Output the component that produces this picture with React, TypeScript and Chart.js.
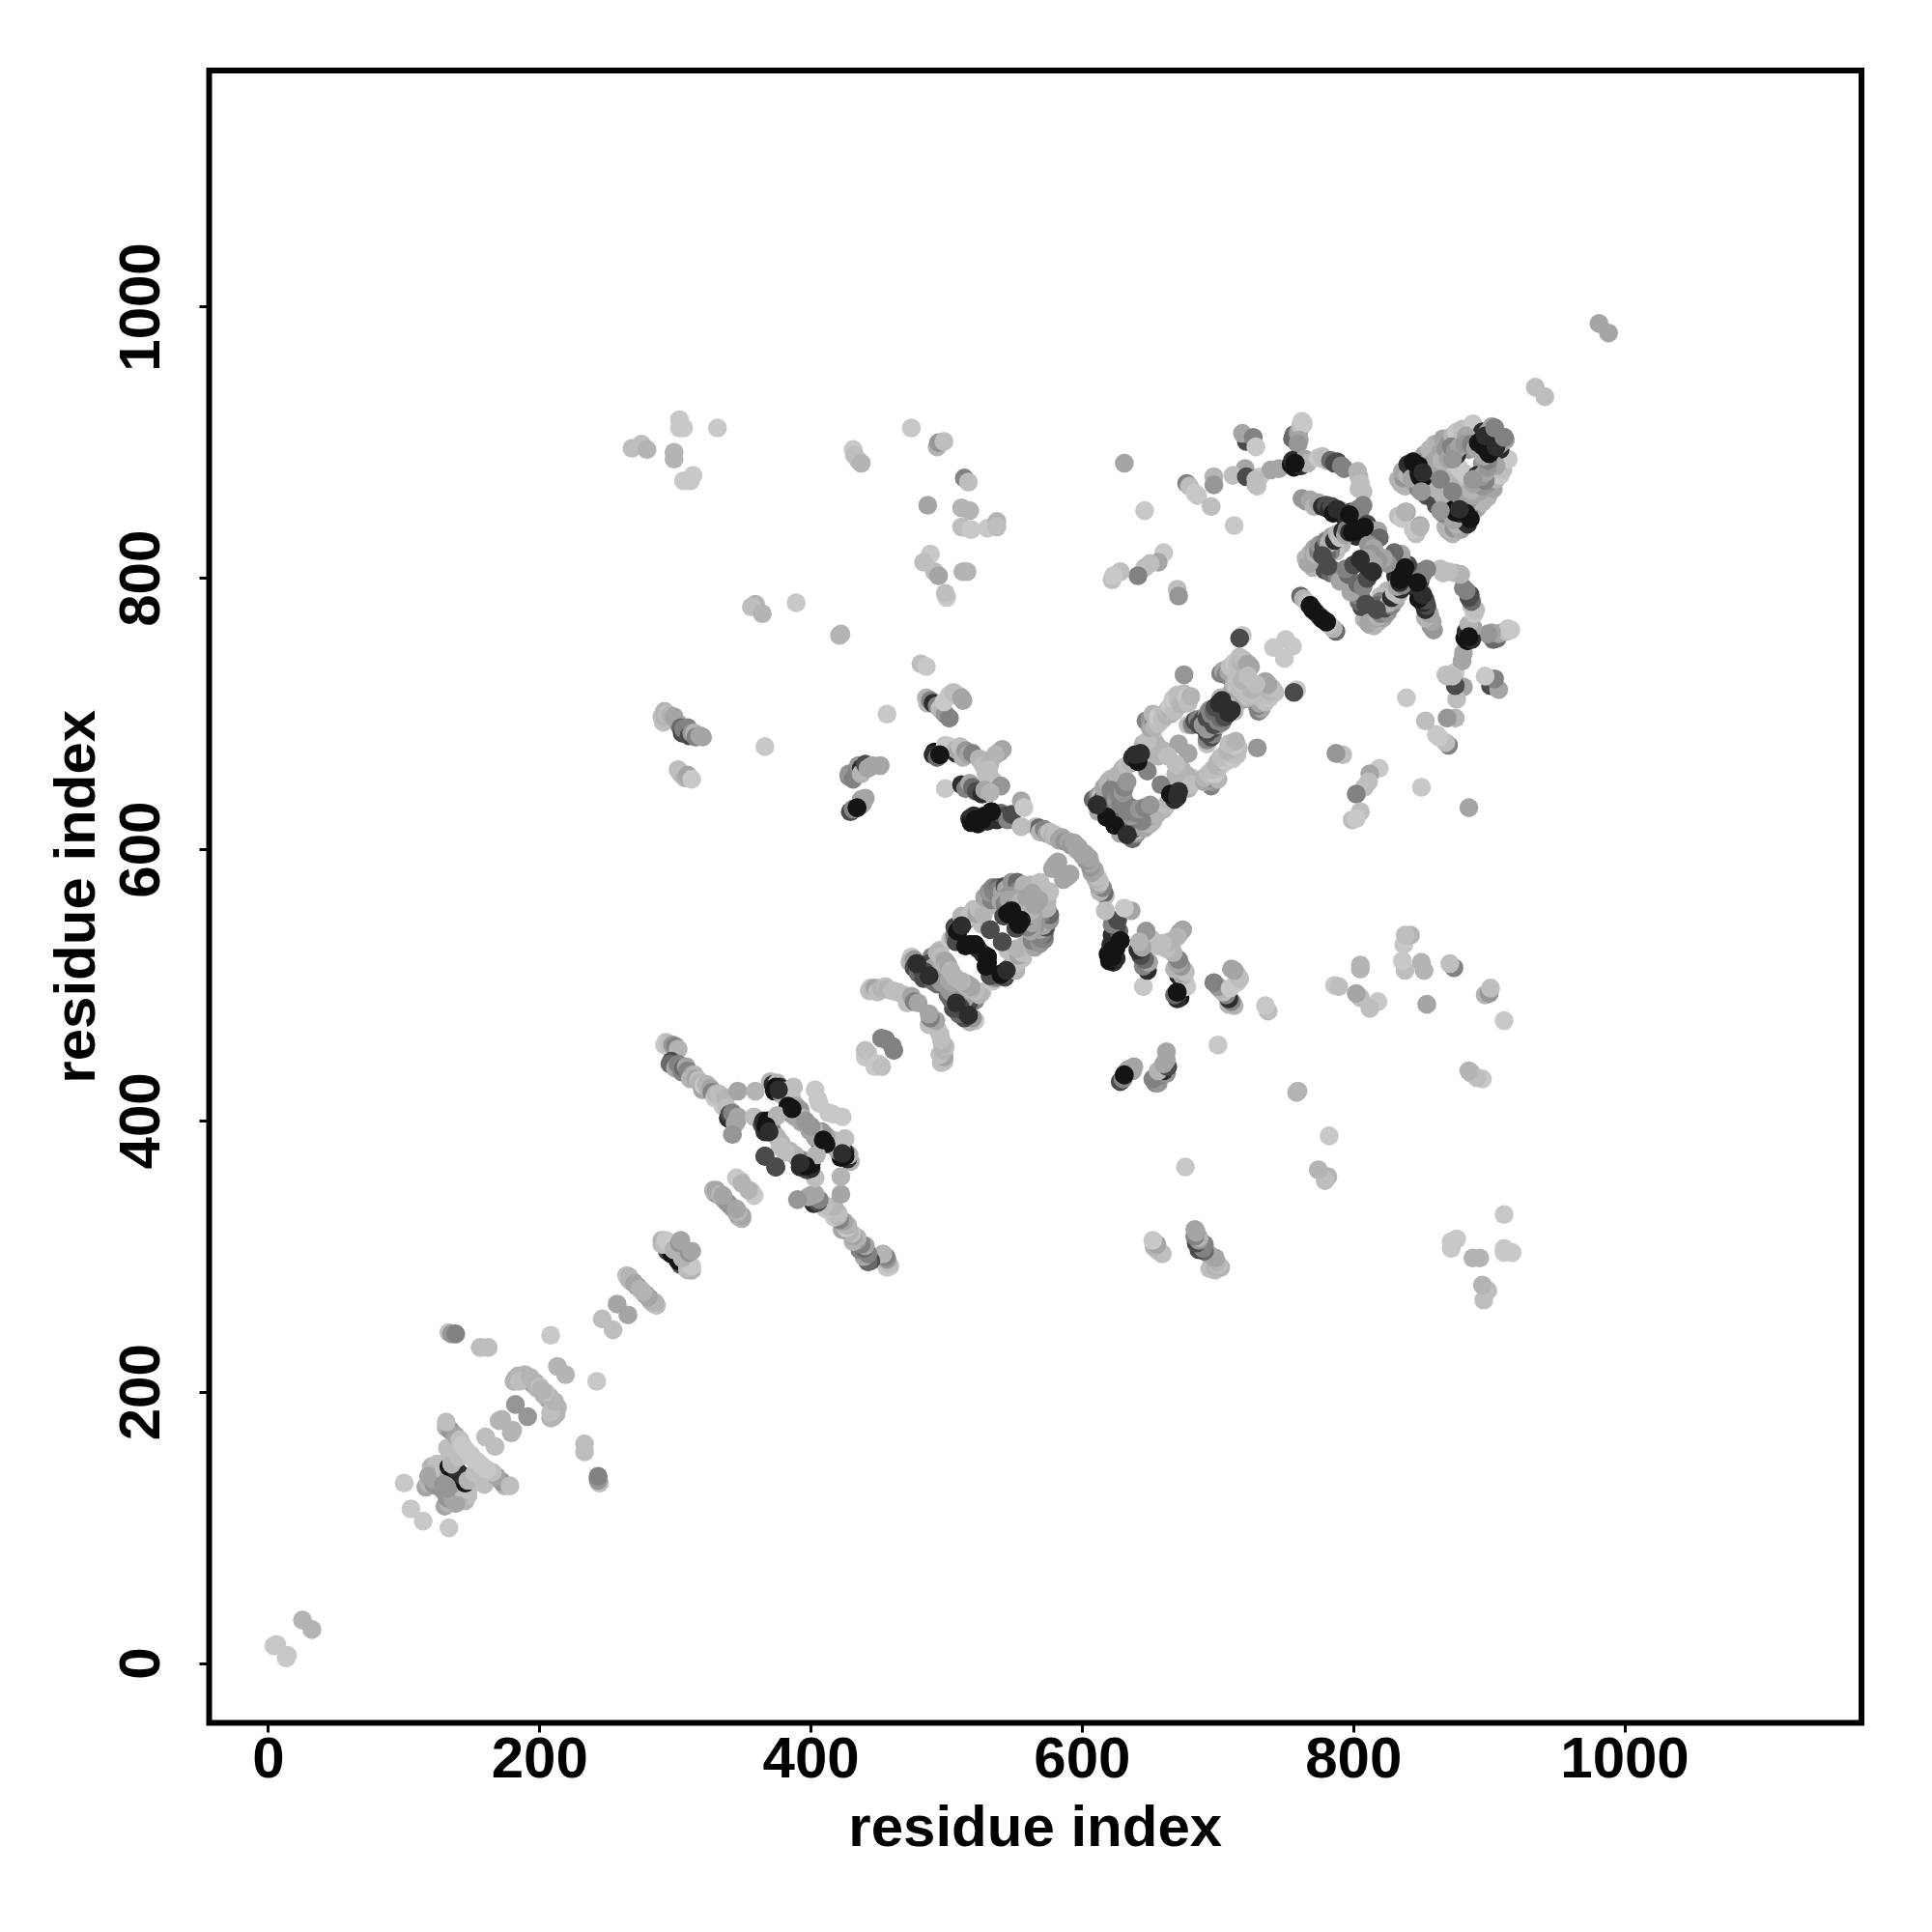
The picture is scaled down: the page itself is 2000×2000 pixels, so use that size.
import React, { useEffect, useRef } from "react";
import { Chart, registerables } from "chart.js";

Chart.register(...registerables);

// each contact: [residue i, residue j, strength level 0-9]; the map is symmetric
type Contact = [number, number, number];

const nTerminus: Contact[] = [[4,13,0],[6,14,0],[25,32,2]];

const domainA: Contact[] = [
[100,133,0],[105,114,0],[116,130,3],[118,133,2],[122,132,4],[125,137,4],[127,133,4],[130,136,5],[120,145,2],[124,147,1],
[126,130,4],[128,139,4],[122,140,2],[118,138,3],[121,136,3],[130,141,1],[128,147,1],[133,138,3],[129,132,4],
[133,145,9],[136,144,9],[139,142,8],[132,159,1],[135,150,1],[135,147,2],[137,157,1],[140,152,1],[131,174,2],[134,172,4],[138,168,3],[141,165,1],[143,161,0],[146,157,0],[149,154,0],[152,150,0],[131,178,1],
[133,244,1],[135,243,4],[138,243,5],[156,233,1],[162,233,1],[160,167,1],[170,179,2],[172,180,2],[182,191,4],
[181,208,2],[182,210,2],[184,212,2],[187,212,2],[191,209,2],[195,206,3],[198,203,2],[186,209,2],[189,213,2],[185,208,1],[193,211,2],[197,207,2],[200,204,1],[202,201,2],
[208,242,0],[213,219,2],[246,254,1],[257,265,3],[269,281,6],[272,278,6],[264,286,1],[265,284,0],[266,285,2],[267,282,2],[270,280,3],[274,276,2],
[294,304,7],[297,302,9],[290,309,1],[290,312,2],[291,310,2],[292,309,1],[293,312,0],[299,305,2],[303,310,4],[304,312,3],
[329,347,2],[331,346,4],[334,344,3],[336,342,3],[338,340,4],[328,349,2],[330,349,3],[333,346,2],[335,345,3],[345,358,0],[348,356,0],[349,354,2],
];

const hairpin: Contact[] = [
[293,458,1],[296,454,3],[292,456,0],[295,457,1],[298,456,4],[300,455,5],[302,453,2],
[297,444,7],[296,442,6],[299,441,6],[303,440,7],[300,439,3],[302,442,5],[305,436,5],[306,439,6],[308,440,3],[309,437,5],[312,434,4],[311,431,2],[314,434,2],[315,431,3],[317,430,1],[318,428,2],[320,423,3],[321,426,0],[323,427,2],[324,424,2],[326,424,3],[327,421,5],[329,417,0],[330,420,2],[332,420,1],[333,417,1],[335,411,0],[336,414,1],[337,417,2],[338,410,1],
[339,402,8],[340,405,7],[343,403,7],[342,406,5],[345,400,5],[344,398,3],[346,403,3],[342,390,4],[346,422,3],[359,422,2],[358,403,1],
[370,429,2],[372,427,8],[373,422,9],[374,425,9],[376,423,8],[375,428,2],[377,425,8],[378,420,4],[380,422,3],[381,417,2],[383,419,1],[384,412,2],[386,416,1],[389,411,3],[385,406,8],[383,411,9],[386,409,9],[388,407,8],[392,408,4],[391,404,4],[388,403,3],[394,402,2],[393,399,3],[396,400,4],
[387,425,1],[403,423,0],[405,416,0],[406,413,0],
[364,397,7],[366,392,8],[365,400,8],[367,396,9],[368,400,9],[369,392,8],[371,394,3],[372,391,5],[375,388,2],[378,384,2],[377,381,1],[375,404,2],[366,374,7],
];

const domainB: Contact[] = [
[440,447,0],[442,450,0],[440,452,1],[452,461,5],[455,460,5],
[443,496,1],[444,498,1],[447,498,3],[449,495,1],[452,498,2],[455,499,1],[456,497,2],[460,496,1],[464,495,1],[468,493,1],[471,487,1],[472,490,1],[474,492,3],[476,488,5],[479,487,3],
[474,521,0],[473,517,2],[476,519,4],[478,516,8],[476,513,7],[480,513,6],[479,509,6],[482,511,7],[484,510,7],[483,505,7],[487,507,8],[490,503,6],[493,501,6],
[486,511,4],[488,509,5],[491,507,4],[494,505,5],[496,502,4],[489,521,5],[492,518,6],[487,516,7],[490,513,3],[498,510,3],[500,507,4],[502,504,3],
[495,526,1],[493,524,2],[496,521,1],[497,518,2],[499,518,3],[500,514,2],[501,515,3],[503,511,2],[506,506,2],
[503,534,0],[505,535,3],[506,537,5],[506,543,7],[508,541,6],[508,538,8],[510,543,7],[512,547,4],[513,547,6],[514,548,6],[511,544,8],[508,540,9],[507,532,7],[511,551,2],[516,550,1],[520,551,1],[523,550,1],
[514,529,9],[517,530,9],[521,530,9],[523,527,8],[532,541,7],[526,545,1],[518,552,1],[520,556,1],[522,553,3],[524,556,1],[527,552,2],[536,559,1],
[531,559,2],[528,565,3],[533,563,5],[531,569,4],[535,569,5],[534,572,5],[537,568,5],[538,572,6],[538,570,5],[541,569,3],[543,573,7],[544,571,3],[547,572,2],[548,576,4],[550,569,4],[552,576,6],[553,570,5],[556,571,3],[557,574,2],[562,574,2],[568,574,2],[569,576,1],[545,566,4],
[540,562,3],[543,560,5],[546,563,3],[542,551,7],[545,553,9],[548,555,9],[550,558,6],[552,557,4],[552,564,3],[556,559,3],[555,562,2],[559,565,3],[563,568,3],
[566,617,1],[568,616,6],[569,613,2],[572,615,5],[574,612,3],[576,613,1],[578,610,2],[580,611,1],[583,607,3],[585,609,3],[587,606,4],[590,606,3],[592,603,4],[594,605,3],[596,600,3],[597,602,3],[578,586,3],[580,589,3],[582,591,3],
];

const domainC: Contact[] = [
[608,637,6],[610,635,6],[611,633,8],[612,637,5],[612,640,4],[614,640,1],[615,637,7],[617,643,3],[618,640,6],[616,646,3],[619,650,2],[620,646,2],[621,652,2],[623,650,2],[623,646,4],[625,649,3],[626,655,2],[627,652,2],[630,660,2],[633,662,1],[636,664,2],[639,666,1],
[637,668,8],[639,670,8],[641,665,9],[641,669,9],[643,666,8],[643,671,8],[646,669,2],[646,674,1],[649,676,1],[650,675,2],[651,678,1],[653,681,0],[655,677,2],[645,678,2],[648,680,1],
[618,624,9],[621,644,5],[612,628,3],[622,630,6],[625,636,4],[628,633,5],[627,640,5],[631,636,5],[630,642,4],[631,646,5],[633,650,4],[648,658,5],
[647,695,5],[650,696,4],[650,690,3],[653,694,5],[653,690,2],[652,700,2],[656,693,1],[656,698,0],[659,696,1],[660,700,1],[662,699,2],[663,703,1],[665,700,2],[665,706,0],[668,702,1],[668,708,1],[667,711,0],[670,714,1],[671,709,1],[673,707,2],[674,710,2],[675,715,1],[677,712,0],[678,708,1],[680,713,2],
[656,669,2],[660,673,2],[671,678,3],[663,669,1],[678,692,1],[681,692,5],[683,695,7],[685,696,5],[686,692,7],[689,696,7],[689,692,4],[692,700,4],[692,697,7],[695,700,5],[694,703,5],[697,702,6],[698,705,7],[701,708,7],[703,710,8],[702,712,2],[704,706,1],[706,711,0],[708,714,1],[711,719,3],
[675,729,4],[702,730,5],[704,732,3],[706,729,5],[708,731,3],[709,735,1],[711,733,1],[712,738,0],[714,737,1],[716,742,1],[717,738,2],[719,740,1],[720,735,2],[722,737,3],[724,735,3],[712,722,2],[714,721,0],[714,724,1],[716,719,1],[718,725,2],[722,728,1],
];

const domainD: Contact[] = [
[729,868,0],[731,875,0],[739,880,3],[745,881,3],[755,903,6],[756,906,6],[757,905,6],[759,907,4],[760,909,3],[761,913,1],[762,916,0],[763,914,0],[760,902,3],[759,899,4],
[721,901,7],[718,907,3],[726,904,5],[728,897,0],[720,881,3],[711,876,1],[721,875,7],[728,873,1],[728,869,1],
[754,884,9],[756,882,9],[755,887,8],[757,885,9],[758,883,9],[761,883,8],[760,885,8],[764,888,3],[766,885,2],[774,889,0],[777,890,1],[780,887,1],[783,887,6],[786,885,7],[788,886,7],[791,883,5],[793,881,5],[803,879,2],[804,875,2],[805,870,1],[804,866,1],[807,864,1],
[762,859,4],[765,857,4],[768,858,3],[771,853,2],[774,856,3],[777,853,8],[780,854,7],[782,851,8],[784,853,7],[785,848,9],[788,851,8],[791,850,1],[793,846,9],[795,843,8],[797,847,9],[798,849,7],[800,845,9],[801,848,6],[803,851,5],[805,850,5],[807,854,5],
[799,834,9],[802,831,8],[803,836,9],[806,834,9],[808,838,9],[810,840,7],[812,836,5],[815,833,5],[818,835,3],[819,830,6],[811,825,4],[815,822,3],[813,818,4],
[792,830,1],[788,823,1],[789,828,2],[791,825,2],[785,825,2],[787,820,1],[783,820,5],[780,818,6],[777,817,7],[775,815,2],[772,815,2],[766,812,3],[769,810,3],[773,812,7],[770,808,2],[781,809,7],[779,806,7],[785,806,6],[783,804,6],[788,802,5],[792,800,6],[790,798,3],[796,803,6],[794,807,5],[800,810,7],[808,811,8],[805,814,8],[810,815,3],
[761,787,6],[763,785,2],[766,782,1],[768,780,9],[770,777,9],[772,775,8],
[765,815,2],[767,811,3],[768,818,2],[770,815,3],[771,822,3],[772,818,2],[774,820,5],[775,825,4],[778,823,7],[780,828,5],[782,826,2],[784,831,3],[786,828,8],[788,833,2],[790,830,1],[792,835,8],[794,832,3],[795,836,5],[797,834,8],
[835,870,2],[833,873,2],[838,868,2],[837,874,4],[836,879,3],[840,876,2],[843,880,8],[840,884,8],[844,886,9],[848,883,9],[849,888,2],[851,885,6],[852,891,3],[854,887,5],[857,892,3],[856,895,2],[860,895,2],[860,899,2],[864,896,2],[866,903,3],[870,899,4],[873,905,2],[876,908,0],[880,910,1],[886,908,2],[888,914,0],
[889,903,9],[892,900,9],[893,903,9],[895,898,9],[895,908,8],[897,905,8],[899,908,4],[902,912,3],[904,911,5],[901,905,2],[846,869,3],[848,866,5],[853,865,5],[864,873,5],[857,874,3],[860,871,4],[863,878,2],[866,875,3],[868,882,3],[871,878,2],[875,883,1],[878,881,0],[850,864,4],[854,861,7],[852,868,4],[856,871,2],[858,878,7],[861,866,2],[866,889,3],[870,892,2],[873,888,4],[885,895,4],[880,903,1],[883,905,3],[876,891,8],
[843,874,3],[846,873,3],[848,878,8],[849,875,9],[851,878,8],[851,874,9],[854,881,2],[857,880,3],[857,884,4],[861,888,3],[862,884,3],[864,893,3],[865,887,2],[868,895,4],[870,888,3],[872,897,5],[875,894,4],[878,897,3],[882,899,4],[887,899,5],[890,896,3],
[833,846,1],[836,844,0],[839,849,3],[838,849,2],[934,941,1],[981,988,3],
];

const longRange: Contact[] = [
[268,896,1],[275,899,1],[279,895,2],[303,917,0],[303,911,0],[306,911,0],[331,911,0],[299,893,2],[299,888,2],[313,876,0],[306,872,0],[311,872,0],
[431,895,0],[432,891,1],[435,887,1],[437,885,2],[474,911,0],[493,897,2],[494,900,4],[498,901,1],[513,874,5],[516,871,1],[486,854,3],
[511,852,2],[517,850,2],[511,838,1],[518,836,0],[530,837,0],[537,842,2],[537,838,1],[488,818,0],[483,812,1],[491,805,1],[494,802,3],[500,786,0],[499,789,1],[515,805,2],[512,805,2],
[359,781,2],[356,779,1],[364,774,2],[389,782,0],[421,758,2],[422,759,2],[481,737,1],[485,735,0],
[290,698,1],[292,702,2],[291,694,1],[292,698,2],[294,700,1],[296,699,2],[299,698,3],[302,693,3],[304,690,6],[305,686,7],[306,689,5],[309,690,5],[310,684,7],[312,686,4],[314,686,2],[315,683,5],[318,684,3],[320,683,3],[302,659,1],[304,656,1],[307,653,2],[309,655,3],[312,652,0],[366,676,0],[456,700,0],
[485,712,2],[486,708,2],[488,710,5],[490,708,8],[493,706,5],[495,704,1],[497,702,2],[499,700,4],[502,697,5],[502,714,0],[498,709,0],[505,716,1],[508,714,1],[511,712,3],[512,710,3],[499,645,0],
[491,672,9],[490,670,8],[493,668,6],[495,670,9],[498,673,1],[499,677,0],[502,676,0],[507,671,8],[507,674,2],[509,673,3],[510,676,1],[512,668,2],[514,673,4],[516,670,3],[519,671,5],[539,672,4],[541,674,3],[536,670,2],[524,667,2],[526,666,2],[527,662,1],[532,664,2],[531,659,1],[529,656,1],[534,651,1],[530,650,1],[540,647,4],
[511,648,8],[514,647,8],[514,645,5],[517,649,3],[519,646,6],[522,643,7],[526,641,8],[528,644,3],[532,642,2],
[517,623,8],[518,620,9],[520,625,8],[521,622,9],[523,619,9],[526,622,9],[528,625,9],[530,621,8],[533,628,9],[535,624,7],[537,622,8],[538,626,8],[540,627,6],[543,625,7],[545,622,5],[548,626,7],[555,636,3],[555,617,1],[557,631,0],
[428,654,5],[428,656,4],[431,652,5],[434,659,5],[435,662,4],[437,660,8],[437,656,2],[440,663,7],[442,660,3],[445,662,3],[451,662,3],[429,628,7],[431,630,5],[434,631,9],[436,632,2],[438,634,3],[437,637,3],[440,638,3],
[631,885,3],[677,870,5],[679,868,1],[683,863,0],[685,861,0],[697,875,2],[697,869,4],[695,853,1],[646,850,0],[712,839,0],
[660,819,0],[656,812,3],[650,811,1],[646,808,1],[641,802,5],[628,805,1],[622,799,1],[623,802,0],[670,792,1],[671,787,4],
[718,758,0],[716,756,7],[741,749,0],[750,755,0],
];

// the darkest contacts, which sit on top of their neighbours in the picture
const strongContacts: Contact[] = [
[618,624,9],[611,633,8],[641,665,9],[641,669,9],[639,670,8],[643,671,8],[698,705,7],[701,708,8],[703,710,8],
[892,900,9],[895,898,9],[897,905,8],[904,911,5],[848,883,9],[844,886,9],[849,875,9],[851,878,8],[864,873,5],[873,888,4],[850,864,4],
[805,814,8],[799,834,9],[803,836,9],[808,838,9],[781,809,7],[777,817,7],[768,780,9],[770,777,9],[757,885,9],[788,851,8],[797,847,9],
[545,553,9],[548,555,9],[521,530,9],[517,530,9],[532,541,7],[508,540,9],[511,544,8],[484,510,7],[478,516,8],[487,507,8],
[374,425,9],[376,423,8],[386,409,9],[367,396,9],[369,392,8],[366,374,7],[521,622,9],[526,622,9],[533,628,9],[434,631,9],[495,670,9],
];

const levelGrays = [200, 190, 180, 165, 150, 130, 105, 75, 45, 20];
const tickValues = [0, 200, 400, 600, 800, 1000];
const xAxisTitle = "residue index";
const yAxisTitle = "residue index";

const contacts: Contact[] = [...nTerminus, ...domainA, ...hairpin, ...domainB, ...domainC, ...domainD, ...longRange, ...strongContacts];
const points = contacts.flatMap(([i, j]) => [{ x: i, y: j }, { x: j, y: i }]);
const colors = contacts.flatMap(([, , s]) => {
  const g = levelGrays[s];
  return [`rgb(${g},${g},${g})`, `rgb(${g},${g},${g})`];
});

const FONT = "'Liberation Sans', Arial, sans-serif";

const frame = {
  id: "frame",
  afterDatasetsDraw(chart: any) {
    const { ctx, chartArea: a } = chart;
    ctx.save();
    ctx.strokeStyle = "#000";
    ctx.lineWidth = 6;
    ctx.strokeRect(a.left, a.top, a.right - a.left, a.bottom - a.top);
    ctx.restore();
  },
};

export default function App() {
  const ref = useRef<HTMLCanvasElement>(null);
  useEffect(() => {
    const setTicks = (s: any) => {
      s.ticks = tickValues.map((value) => ({ value }));
    };
    const font = { family: FONT, size: 60, weight: "bold" as const };
    const plain = (v: any) => String(v);
    const chart = new Chart(ref.current!, {
      type: "scatter",
      data: {
        datasets: [
          {
            data: points,
            pointRadius: 9.8,
            pointBorderWidth: 0,
            pointBackgroundColor: colors,
            showLine: false,
          },
        ],
      },
      plugins: [frame],
      options: {
        animation: false,
        responsive: false,
        layout: { padding: { top: 73, right: 73, left: 0, bottom: 0 } },
        plugins: { legend: { display: false }, tooltip: { enabled: false } },
        scales: {
          x: {
            type: "linear",
            min: -43.8,
            max: 1174.5,
            afterBuildTicks: setTicks,
            afterFit: (s: any) => {
              s.height = 216.5;
            },
            grid: { drawOnChartArea: false, drawTicks: true, tickLength: 10, tickWidth: 3, tickColor: "#000" },
            border: { display: false },
            ticks: { color: "#000", font, padding: -6, maxRotation: 0, autoSkip: false, callback: plain },
            title: { display: true, text: xAxisTitle, color: "#000", font, padding: { top: 6, bottom: 70 } },
          },
          y: {
            type: "linear",
            min: -43.8,
            max: 1174.5,
            afterBuildTicks: setTicks,
            afterFit: (s: any) => {
              s.width = 216.5;
            },
            grid: { drawOnChartArea: false, drawTicks: true, tickLength: 10, tickWidth: 3, tickColor: "#000" },
            border: { display: false },
            ticks: { color: "#000", font, padding: -9, minRotation: 90, maxRotation: 90, crossAlign: "center", autoSkip: false, callback: plain },
            title: { display: true, text: yAxisTitle, color: "#000", font, padding: { top: 45, bottom: 0 } },
          },
        },
      },
    } as any);
    return () => chart.destroy();
  }, []);
  return (
    <canvas
      ref={ref}
      width={2000}
      height={2000}
      style={{ position: "absolute", left: 0, top: 0, width: 2000, height: 2000, display: "block" }}
    />
  );
}
